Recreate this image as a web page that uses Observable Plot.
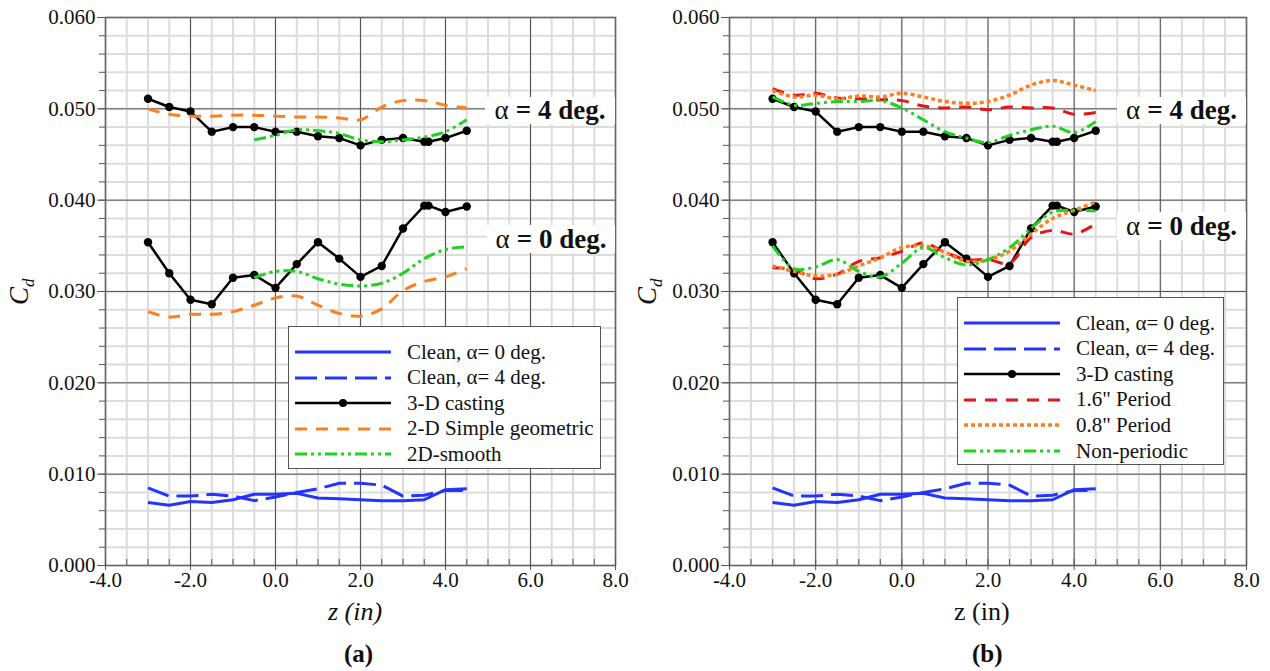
<!DOCTYPE html>
<html>
<head>
<meta charset="utf-8">
<script src="https://cdn.jsdelivr.net/npm/d3@7"></script>
<script src="https://cdn.jsdelivr.net/npm/@observablehq/plot@0.6"></script>
<style>
  html, body { margin: 0; padding: 0; background: #fff; }
  body { width: 1270px; height: 671px; position: relative; overflow: hidden; font-family: "Liberation Serif", "Times New Roman", serif; color: #111; }
  .panel { position: absolute; top: 0; }
  .panel text { font-family: "Liberation Serif", "Times New Roman", serif !important; font-size: 21px !important; }
  .lbl { position: absolute; white-space: nowrap; }
  .alpha { position: absolute; background: #fff; font-size: 27px; font-weight: bold; display: flex; align-items: center; justify-content: center; }
  .alpha .g { font-weight: normal; margin-right: 7px; }
  .legend { position: absolute; background: #fff; border: 1px solid #555; box-sizing: border-box; }
  .legend .row { position: absolute; left: 0; height: 24px; display: flex; align-items: center; font-size: 21px; }
  .legend .row svg { margin-left: 6px; margin-right: 16px; }
  .ylab { position: absolute; transform: rotate(-90deg); transform-origin: center; font-size: 27px; font-style: italic; }
  .ylab sub { font-size: 17px; }
</style>
</head>
<body>
<div id="root"></div>
<script>
// ---------- data ----------
const zFull   = [-3, -2.5, -2, -1.5, -1, -0.5, 0, 0.5, 1, 1.5, 2, 2.5, 3, 3.5, 4, 4.5];
const zCast   = [-3, -2.5, -2, -1.5, -1, -0.5, 0, 0.5, 1, 1.5, 2, 2.5, 3, 3.5, 3.6, 4, 4.5];
const zSmooth = [-0.5, 0, 0.5, 1, 1.5, 2, 2.5, 3, 3.5, 4, 4.5];

const clean0   = [0.0069, 0.0066, 0.0070, 0.0069, 0.0072, 0.0078, 0.0078, 0.0079, 0.0074, 0.0073, 0.0072, 0.0071, 0.0071, 0.0072, 0.0083, 0.0084];
const clean4   = [0.0085, 0.0076, 0.0076, 0.0078, 0.0076, 0.0071, 0.0075, 0.0080, 0.0084, 0.0090, 0.0090, 0.0088, 0.0076, 0.0077, 0.0082, 0.0082];
const casting4 = [0.0511, 0.0502, 0.0497, 0.0475, 0.0480, 0.0480, 0.0475, 0.0475, 0.0470, 0.0468, 0.0460, 0.0466, 0.0468, 0.0464, 0.0464, 0.0468, 0.0476];
const casting0 = [0.0354, 0.0320, 0.0291, 0.0286, 0.0315, 0.0318, 0.0304, 0.0330, 0.0354, 0.0336, 0.0316, 0.0328, 0.0369, 0.0394, 0.0394, 0.0387, 0.0393];

// panel (a)
const geo4    = [0.0500, 0.0494, 0.0492, 0.0492, 0.0493, 0.0493, 0.0492, 0.0491, 0.0491, 0.0490, 0.0488, 0.0502, 0.0509, 0.0509, 0.0504, 0.0501];
const geo0    = [0.0278, 0.0272, 0.0275, 0.0275, 0.0278, 0.0285, 0.0293, 0.0295, 0.0285, 0.0276, 0.0273, 0.0281, 0.0301, 0.0311, 0.0316, 0.0325];
const smooth4 = [0.0466, 0.0471, 0.0477, 0.0476, 0.0473, 0.0466, 0.0464, 0.0466, 0.0469, 0.0475, 0.0488];
const smooth0 = [0.0315, 0.0322, 0.0322, 0.0314, 0.0308, 0.0306, 0.0309, 0.0320, 0.0336, 0.0346, 0.0349];

// panel (b)
const p16_4 = [0.0522, 0.0515, 0.0517, 0.0512, 0.0511, 0.0510, 0.0509, 0.0503, 0.0501, 0.0502, 0.0499, 0.0502, 0.0501, 0.0501, 0.0494, 0.0496];
const p08_4 = [0.0520, 0.0513, 0.0515, 0.0511, 0.0514, 0.0513, 0.0517, 0.0513, 0.0508, 0.0506, 0.0508, 0.0515, 0.0526, 0.0531, 0.0526, 0.0520];
const np_4  = [0.0513, 0.0504, 0.0506, 0.0508, 0.0508, 0.0509, 0.0501, 0.0488, 0.0475, 0.0468, 0.0463, 0.0471, 0.0477, 0.0481, 0.0474, 0.0486];
const p16_0 = [0.0326, 0.0324, 0.0314, 0.0319, 0.0333, 0.0337, 0.0344, 0.0353, 0.0343, 0.0335, 0.0335, 0.0331, 0.0359, 0.0367, 0.0363, 0.0374];
const p08_0 = [0.0328, 0.0322, 0.0317, 0.0319, 0.0328, 0.0337, 0.0348, 0.0350, 0.0343, 0.0333, 0.0335, 0.0344, 0.0363, 0.0380, 0.0389, 0.0398];
const np_0  = [0.0350, 0.0325, 0.0327, 0.0335, 0.0322, 0.0316, 0.0331, 0.0348, 0.0337, 0.0329, 0.0335, 0.0348, 0.0369, 0.0387, 0.0389, 0.0388];

const xTicks = [-4, -2, 0, 2, 4, 6, 8];
const xTickLabels = ["-4.0", "-2.0", "0.0", "2.0", "4.0", "6.0", "8.0"];
const xMinor = [-4, -3.5, -3, -2.5, -2, -1.5, -1, -0.5, 0, 0.5, 1, 1.5, 2, 2.5, 3, 3.5, 4, 4.5, 5, 5.5, 6, 6.5, 7, 7.5, 8];
const yTicks = [0, 0.01, 0.02, 0.03, 0.04, 0.05, 0.06];
const yTickLabels = ["0.000", "0.010", "0.020", "0.030", "0.040", "0.050", "0.060"];
const yMinor = [0, 0.002, 0.004, 0.006, 0.008, 0.01, 0.012, 0.014, 0.016, 0.018, 0.02, 0.022, 0.024, 0.026, 0.028, 0.03,
                0.032, 0.034, 0.036, 0.038, 0.04, 0.042, 0.044, 0.046, 0.048, 0.05, 0.052, 0.054, 0.056, 0.058, 0.06];

// ---------- styles ----------
const BLUE = "#2434ff", ORANGE = "#ff7f1f", GREEN = "#1fd21f", RED = "#e3161b", BLACK = "#000";
const SERIF = "Liberation Serif";
const styles = {
  clean0:  {stroke: BLUE, strokeWidth: 3, dash: null, curve: "linear", label: "Clean, \u03b1= 0 deg."},
  clean4:  {stroke: BLUE, strokeWidth: 3, dash: "22,8", curve: "linear", label: "Clean, \u03b1= 4 deg."},
  casting: {stroke: BLACK, strokeWidth: 2.5, dash: null, curve: "linear", label: "3-D casting"},
  geo:     {stroke: ORANGE, strokeWidth: 3, dash: "12,9", curve: "catmull-rom", label: "2-D Simple geometric"},
  smooth:  {stroke: GREEN, strokeWidth: 3, dash: "12,4,3,4,3,4", curve: "catmull-rom", label: "2D-smooth"},
  p16:     {stroke: RED, strokeWidth: 3, dash: "12,9", curve: "catmull-rom", label: "1.6\" Period"},
  p08:     {stroke: ORANGE, strokeWidth: 3.5, dash: "4,3", curve: "catmull-rom", label: "0.8\" Period"},
  np:      {stroke: GREEN, strokeWidth: 3, dash: "12,4,3,4,3,4", curve: "catmull-rom", label: "Non-periodic"}
};

const rows = (zs, vs) => zs.map((z, i) => ({z, v: vs[i]}));
function lineMark(zs, vs, s) {
  return Plot.line(rows(zs, vs), {x: "z", y: "v", stroke: s.stroke, strokeWidth: s.strokeWidth,
    strokeDasharray: s.dash, curve: s.curve, strokeLinecap: "butt"});
}

function panel(series, cfg) {
  const fmtX = d => xTickLabels[xTicks.indexOf(d)];
  const fmtY = d => yTickLabels[yTicks.indexOf(d)];
  return Plot.plot({
    width: 635, height: 671,
    marginTop: 17, marginBottom: 106, marginLeft: cfg.ml, marginRight: cfg.mr,
    x: {domain: [-4, 8]},
    y: {domain: [0, 0.06]},
    style: {background: "transparent", overflow: "visible", color: "#111", fontFamily: SERIF, fontSize: "21px"},
    marks: [
      Plot.ruleX(xMinor, {stroke: "#dcdcdc", strokeWidth: 2}),
      Plot.ruleY(yMinor, {stroke: "#dcdcdc", strokeWidth: 2}),
      Plot.ruleX(xTicks, {stroke: "#555", strokeWidth: 1}),
      Plot.ruleY(yTicks, {stroke: "#555", strokeWidth: 1}),
      Plot.frame({stroke: "#666", strokeWidth: 1.5}),
      Plot.axisY({ticks: yMinor, tickSize: 6, tickFormat: () => "", label: null, stroke: "#555"}),
      Plot.axisY({ticks: yTicks, tickSize: 8, tickPadding: 2, tickFormat: fmtY, label: null, stroke: "#555", fill: "#111",
                  fontFamily: SERIF, fontSize: 21}),
      Plot.axisX({ticks: xMinor, tickSize: -6, tickFormat: () => "", label: null, stroke: "#555"}),
      Plot.axisX({ticks: xTicks, tickSize: 5, tickPadding: 2, tickFormat: fmtX, label: null, stroke: "#555", fill: "#111",
                  fontFamily: SERIF, fontSize: 21}),
      ...series
    ]
  });
}

function castingMarks() {
  const s = styles.casting;
  return [
    lineMark(zCast, casting4, s), lineMark(zCast, casting0, s),
    Plot.dot(rows(zCast, casting4), {x: "z", y: "v", r: 4.2, fill: BLACK}),
    Plot.dot(rows(zCast, casting0), {x: "z", y: "v", r: 4.2, fill: BLACK})
  ];
}

const seriesA = [
  lineMark(zFull, clean0, styles.clean0),
  lineMark(zFull, clean4, styles.clean4),
  ...castingMarks(),
  lineMark(zFull, geo4, styles.geo),
  lineMark(zFull, geo0, styles.geo),
  lineMark(zSmooth, smooth4, styles.smooth),
  lineMark(zSmooth, smooth0, styles.smooth)
];
const seriesB = [
  lineMark(zFull, clean0, styles.clean0),
  lineMark(zFull, clean4, styles.clean4),
  ...castingMarks(),
  lineMark(zFull, p16_4, styles.p16),
  lineMark(zFull, p16_0, styles.p16),
  lineMark(zFull, p08_4, styles.p08),
  lineMark(zFull, p08_0, styles.p08),
  lineMark(zFull, np_4, styles.np),
  lineMark(zFull, np_0, styles.np)
];

const root = document.getElementById("root");
function place(el, left) { el.classList.add("panel"); el.style.left = left + "px"; root.appendChild(el); }
place(panel(seriesA, {ml: 105, mr: 20}), 0);
place(panel(seriesB, {ml: 94, mr: 24}), 635);

function addDiv(cls, html, css) {
  const d = document.createElement("div");
  d.className = cls; d.innerHTML = html;
  Object.assign(d.style, css);
  document.body.appendChild(d);
  return d;
}

// alpha annotations
const alphaA = [["4", 485, 97, 130, 27], ["0", 487, 225, 128, 28]];
const alphaB = [["4", 1117, 97, 129, 27], ["0", 1117, 212, 129, 28]];
for (const [a, l, t, w, h] of [...alphaA, ...alphaB]) {
  addDiv("alpha", `<span class="g">\u03b1</span>= ${a} deg.`, {left: l + "px", top: t + "px", width: w + "px", height: h + "px"});
}

// legends
function sample(s, withDot) {
  const dash = s.dash ? `stroke-dasharray="${s.dash}"` : "";
  return `<svg width="96" height="10"><line x1="0" x2="96" y1="5" y2="5" stroke="${s.stroke}" stroke-width="${s.strokeWidth}" ${dash}/>` +
    (withDot ? `<circle cx="48" cy="5" r="4" fill="#000"/>` : "") + `</svg>`;
}
function legend(keys, left, top, width, height) {
  const box = addDiv("legend", "", {left: left + "px", top: top + "px", width: width + "px", height: height + "px"});
  keys.forEach((k, i) => {
    const r = document.createElement("div");
    r.className = "row";
    r.style.top = (13 + i * 25.6) + "px";
    r.innerHTML = sample(styles[k], k === "casting") + `<span>${styles[k].label}</span>`;
    box.appendChild(r);
  });
}
legend(["clean0", "clean4", "casting", "geo", "smooth"], 288, 326, 313, 143);
legend(["clean0", "clean4", "casting", "p16", "p08", "np"], 957, 297, 267, 168);

// axis titles
addDiv("ylab", `C<sub>d</sub>`, {left: "8px", top: "274px"});
addDiv("ylab", `C<sub>d</sub>`, {left: "636px", top: "274px"});
addDiv("lbl", "z (in)", {left: "328px", top: "597px", fontSize: "26px", fontStyle: "italic"});
addDiv("lbl", "z (in)", {left: "954px", top: "597px", fontSize: "26px"});
addDiv("lbl", "(a)", {left: "344px", top: "640px", fontSize: "25px", fontWeight: "bold"});
addDiv("lbl", "(b)", {left: "972px", top: "640px", fontSize: "25px", fontWeight: "bold"});
</script>
</body>
</html>
